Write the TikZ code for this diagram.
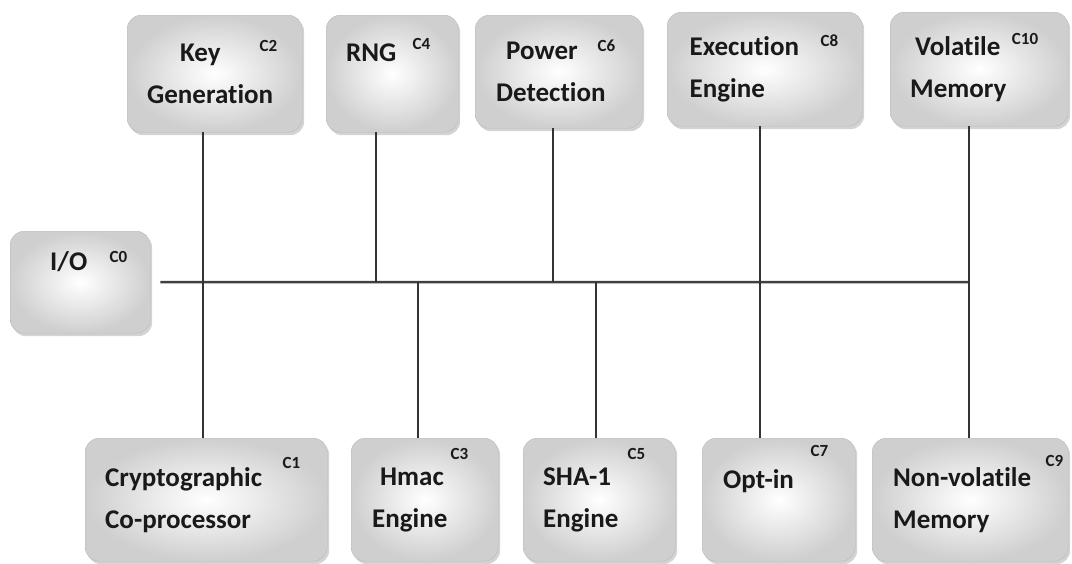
\documentclass[tikz,border=0pt]{standalone}
\usepackage{fontspec}
\setmainfont{Carlito}[Ligatures=NoCommon]
\usetikzlibrary{shadows}

\begin{document}
\begin{tikzpicture}[x=1pt,y=-1pt,
    blk/.style={draw=gray!55, rounded corners=14pt, anchor=north west, inner sep=0pt, align=left,
      inner color=white, outer color=gray!38,
      drop shadow={shadow xshift=2pt, shadow yshift=-3pt, opacity=.35, fill=gray},
      font=\fontsize{27}{42}\selectfont\bfseries, text=black!90},
    tag/.style={anchor=north east, inner sep=0pt, font=\fontsize{17}{17}\selectfont\bfseries, text=black!90},
    wire/.style={line width=1.5pt, draw=black!80},
    bus/.style={line width=2.5pt, draw=black!75}]
	\useasboundingbox (0,0) rectangle (1072,563);
	% top row
	\node[blk, minimum width=175pt, minimum height=117pt, text width=135pt] (kg) at (127,15) {\hspace*{33pt}Key\\Generation};
	\node[blk, minimum width=132pt, minimum height=117pt, text width=92pt] (rng) at (326,15) {RNG\\\mbox{}};
	\node[blk, minimum width=167pt, minimum height=113pt, text width=125pt] (pd) at (475,15) {\hspace*{10pt}Power\\Detection};
	\node[blk, minimum width=195pt, minimum height=114pt, text width=150pt] (ee) at (667,12) {Execution\\Engine};
	\node[blk, minimum width=178pt, minimum height=114pt, text width=138pt] (vm) at (890,12) {\hspace*{5pt}Volatile\\Memory};
	% left
	\node[blk, minimum width=140pt, minimum height=102pt, text width=60pt] (io) at (10,231) {I/O\\\mbox{}};
	% bottom row
	\node[blk, minimum width=242pt, minimum height=123pt, text width=202pt] (cp) at (85,438) {Cryptographic\\Co-processor};
	\node[blk, minimum width=147pt, minimum height=123pt, text width=105pt] (hm) at (351,438) {\hspace*{8pt}Hmac\\Engine};
	\node[blk, minimum width=152pt, minimum height=123pt, text width=112pt] (sha) at (523,438) {SHA-1\\Engine};
	\node[blk, minimum width=153pt, minimum height=123pt, text width=111pt] (opt) at (702,438) {Opt-in\\\mbox{}};
	\node[blk, minimum width=196pt, minimum height=123pt, text width=154pt] (nvm) at (872,438) {Non-volatile\\Memory};
	% tags
	\node[tag] (c0) at ([xshift=-23pt,yshift=-20pt]io.north east) {C0};
	\node[tag] (c1) at ([xshift=-27pt,yshift=-19pt]cp.north east) {C1};
	\node[tag] (c2) at ([xshift=-25pt,yshift=-25pt]kg.north east) {C2};
	\node[tag] (c3) at ([xshift=-30pt,yshift=-10pt]hm.north east) {C3};
	\node[tag] (c4) at ([xshift=-28pt,yshift=-23pt]rng.north east) {C4};
	\node[tag] (c5) at ([xshift=-30pt,yshift=-10pt]sha.north east) {C5};
	\node[tag] (c6) at ([xshift=-27pt,yshift=-25pt]pd.north east) {C6};
	\node[tag] (c7) at ([xshift=-27pt,yshift=-7pt]opt.north east) {C7};
	\node[tag] (c8) at ([xshift=-24pt,yshift=-23pt]ee.north east) {C8};
	\node[tag] (c9) at ([xshift=-5pt,yshift=-17pt]nvm.north east) {C9};
	\node[tag] (c10) at ([xshift=-30pt,yshift=-21pt]vm.north east) {C10};
	% bus
	\coordinate (b0) at ([xshift=10pt]io.east);
	\coordinate (j1) at (203,282);
	\coordinate (j2) at (376,282);
	\coordinate (j3) at (418,282);
	\coordinate (j4) at (553,282);
	\coordinate (j5) at (596,282);
	\coordinate (j6) at (760,282);
	\coordinate (j7) at (969,282);
	\draw[bus] (b0) -- (j7);
	\draw[wire] (kg.south -| j1) -- (cp.north -| j1);
	\draw[wire] (rng.south -| j2) -- (j2);
	\draw[wire] (j3) -- (hm.north -| j3);
	\draw[wire] (pd.south -| j4) -- (j4);
	\draw[wire] (j5) -- (sha.north -| j5);
	\draw[wire] (ee.south -| j6) -- (opt.north -| j6);
	\draw[wire] (vm.south -| j7) -- (nvm.north -| j7);
\end{tikzpicture}
\end{document}
